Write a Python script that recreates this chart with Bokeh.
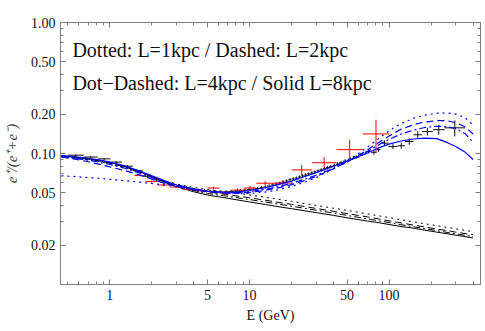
import numpy as np
from bokeh.plotting import figure
from bokeh.models import (LogAxis, FixedTicker, ColumnDataSource, Range1d,
                          CustomJSTickFormatter, Title)
from bokeh.core.properties import value
from bokeh.embed import file_html
from bokeh.resources import INLINE

# ---------------- data ----------------
ams_edges = [0.5, 0.65, 0.82, 1.01, 1.22, 1.46, 1.72, 2.0, 2.31, 2.65, 3.0, 3.36, 3.73,
             4.12, 4.54, 5.0, 5.49, 6.0, 6.54, 7.1, 7.69, 8.3, 8.95, 9.62, 10.32, 11.04,
             11.8, 12.59, 13.41, 14.25, 15.14, 16.05, 17.0, 17.98, 18.99, 20.04, 21.13,
             22.25, 23.42, 24.62, 25.9, 27.25, 28.68, 30.21, 31.82, 33.53, 35.36, 37.31,
             39.39, 41.61, 44.0, 46.57, 50.5, 55.0, 61.5, 68.0, 74.5, 81.5, 87.0, 99.0,
             115.0, 130.0, 150.0, 172.0, 206.0, 250.0, 350.0]
ams_frac = [0.097, 0.094, 0.091, 0.086, 0.080, 0.074, 0.067, 0.063, 0.060, 0.058, 0.0565,
            0.055, 0.0535, 0.0525, 0.052, 0.0515, 0.051, 0.0508, 0.051, 0.0512, 0.0515,
            0.052, 0.0525, 0.053, 0.0535, 0.054, 0.0548, 0.0555, 0.0565, 0.0575, 0.0585,
            0.0595, 0.0605, 0.0617, 0.063, 0.064, 0.065, 0.0662, 0.0675, 0.0685, 0.0698,
            0.071, 0.0722, 0.0735, 0.075, 0.0765, 0.078, 0.0795, 0.0812, 0.083, 0.085,
            0.0875, 0.0905, 0.094, 0.099, 0.1035, 0.102, 0.107, 0.120, 0.113, 0.1146,
            0.1235, 0.139, 0.147, 0.152, 0.157]
ams_err = [0.0015, 0.0015, 0.0015, 0.0015, 0.0015, 0.0015, 0.0015, 0.0015, 0.0015, 0.0015,
           0.0015, 0.0015, 0.0015, 0.0015, 0.0015, 0.0015, 0.0015, 0.0015, 0.0015, 0.0015,
           0.0015, 0.0015, 0.0015, 0.0015, 0.0015, 0.0015, 0.0015, 0.0015, 0.0015, 0.0015,
           0.0015, 0.0015, 0.0015, 0.0018, 0.0018, 0.0018, 0.0018, 0.0018, 0.002, 0.002,
           0.002, 0.002, 0.002, 0.0022, 0.0022, 0.0022, 0.0025, 0.0025, 0.0025, 0.0028,
           0.003, 0.003, 0.003, 0.003, 0.003, 0.0035, 0.004, 0.004, 0.006, 0.005, 0.006,
           0.007, 0.009, 0.010, 0.013, 0.022]

pam_lo = [1.5, 1.8, 2.2, 2.7, 3.3, 4.1, 5.0, 6.1, 7.4, 9.1, 11.2, 15.0, 20.0, 28.0, 42.0, 65.0]
pam_hi = [1.8, 2.2, 2.7, 3.3, 4.1, 5.0, 6.1, 7.4, 9.1, 11.2, 15.0, 20.0, 28.0, 42.0, 65.0, 100.0]
pam_frac = [0.068, 0.061, 0.0575, 0.0555, 0.0535, 0.052, 0.0545, 0.0500, 0.0525, 0.0545,
            0.0593, 0.0595, 0.075, 0.085, 0.107, 0.141]
pam_err = [0.0012, 0.0012, 0.0012, 0.0012, 0.0012, 0.0013, 0.0014, 0.0016, 0.0018, 0.002,
           0.0022, 0.003, 0.0065, 0.009, 0.020, 0.040]

curve_E = [0.45, 0.55, 0.7, 0.85, 1.0, 1.3, 1.6, 2.0, 2.5, 3.0, 4.0, 5.0, 6.5, 8.0, 10, 13,
           16, 20, 25, 30, 40, 50, 60, 70, 85, 100, 120, 150, 180, 220, 260, 300, 350, 400]
bkg_L1 = [0.094, 0.092, 0.0895, 0.0865, 0.0835, 0.0778, 0.0725, 0.0670, 0.0620, 0.0585,
          0.0550, 0.0530, 0.0512, 0.0498, 0.0483, 0.0463, 0.0447, 0.0431, 0.0414, 0.0402,
          0.0382, 0.0368, 0.0356, 0.0346, 0.0334, 0.0324, 0.0313, 0.0301, 0.0291, 0.0281,
          0.0273, 0.0266, 0.0259, 0.0253]
bkg_L2 = [0.095, 0.093, 0.0905, 0.0875, 0.0845, 0.0785, 0.073, 0.0668, 0.0612, 0.0575,
          0.0533, 0.0510, 0.0490, 0.0475, 0.0459, 0.0440, 0.0424, 0.0409, 0.0393, 0.0381,
          0.0362, 0.0348, 0.0337, 0.0328, 0.0316, 0.0306, 0.0296, 0.0284, 0.0275, 0.0265,
          0.0258, 0.0251, 0.0245, 0.0240]
bkg_L4 = [0.0955, 0.0935, 0.091, 0.088, 0.085, 0.079, 0.073, 0.0665, 0.0605, 0.0565,
          0.0522, 0.0496, 0.0476, 0.0461, 0.0445, 0.0426, 0.0411, 0.0396, 0.0381, 0.0369,
          0.0351, 0.0337, 0.0326, 0.0317, 0.0306, 0.0297, 0.0287, 0.0276, 0.0267, 0.0258,
          0.0250, 0.0244, 0.0238, 0.0232]
bkg_L8 = [0.096, 0.094, 0.0915, 0.0885, 0.0855, 0.0795, 0.0735, 0.0665, 0.0600, 0.0558,
          0.0510, 0.0482, 0.0461, 0.0444, 0.0427, 0.0408, 0.0393, 0.0379, 0.0365, 0.0354,
          0.0337, 0.0323, 0.0313, 0.0305, 0.0296, 0.0287, 0.0278, 0.0269, 0.0260, 0.0251,
          0.0244, 0.0238, 0.0232, 0.0226]
tot_L1 = [0.0675, 0.0668, 0.0655, 0.0645, 0.0635, 0.0620, 0.0605, 0.0590, 0.0572, 0.0558,
          0.0535, 0.0518, 0.0502, 0.0495, 0.0495, 0.0508, 0.0528, 0.0560, 0.0605, 0.0655,
          0.0762, 0.0875, 0.0995, 0.112, 0.131, 0.149, 0.168, 0.186, 0.196, 0.203, 0.204,
          0.200, 0.188, 0.165]
tot_L2 = [0.094, 0.091, 0.0865, 0.0825, 0.079, 0.0738, 0.069, 0.0638, 0.059, 0.056,
          0.0527, 0.0511, 0.0500, 0.0498, 0.0505, 0.0523, 0.0546, 0.0578, 0.0622, 0.0668,
          0.0765, 0.0865, 0.0965, 0.1065, 0.122, 0.136, 0.152, 0.166, 0.174, 0.178, 0.178,
          0.172, 0.160, 0.141]
tot_L4 = [0.095, 0.0925, 0.089, 0.0855, 0.0825, 0.0770, 0.0715, 0.0655, 0.0602, 0.0568,
          0.0532, 0.0514, 0.0503, 0.0503, 0.0512, 0.0533, 0.0558, 0.0593, 0.0638, 0.0682,
          0.0770, 0.0860, 0.0950, 0.1035, 0.117, 0.128, 0.140, 0.151, 0.158, 0.1615, 0.160,
          0.155, 0.142, 0.122]
tot_L8 = [0.0965, 0.0945, 0.092, 0.089, 0.086, 0.080, 0.074, 0.0675, 0.0615, 0.0575,
          0.0535, 0.0515, 0.0505, 0.0508, 0.0522, 0.0548, 0.0578, 0.0615, 0.0668, 0.0715,
          0.0800, 0.0875, 0.0945, 0.101, 0.111, 0.118, 0.124, 0.129, 0.131, 0.130, 0.1215,
          0.113, 0.1025, 0.090]

notes = ["Dotted: L=1kpc / Dashed: L=2kpc", "Dot\u2212Dashed: L=4kpc / Solid L=8kpc"]

x_major = [1, 5, 10, 50, 100]
x_minor = [0.5, 0.6, 0.7, 0.8, 0.9, 2, 3, 4, 6, 7, 8, 9, 20, 30, 40, 60, 70, 80, 90,
           200, 300, 400]
y_major = [0.02, 0.05, 0.1, 0.2, 0.5, 1.0]
y_minor = [0.01, 0.03, 0.04, 0.06, 0.07, 0.08, 0.09, 0.3, 0.4, 0.6, 0.7, 0.8, 0.9]

# ---------------- figure ----------------
GRAY = "#808080"
FONT = "Liberation Serif"

p = figure(width=485, height=331, x_axis_type="log", y_axis_type="log",
           x_range=Range1d(0.443, 452), y_range=Range1d(0.01, 1.0),
           output_backend="svg", toolbar_location=None,
           min_border_left=57, min_border_right=5, min_border_top=22, min_border_bottom=47,
           background_fill_color="white", border_fill_color="white",
           outline_line_color=GRAY)
p.grid.visible = False


def style_axis(ax, ticks, minor):
    ax.ticker = FixedTicker(ticks=ticks, minor_ticks=minor)
    ax.axis_line_color = GRAY
    ax.major_tick_line_color = GRAY
    ax.minor_tick_line_color = GRAY
    ax.major_tick_in = 5
    ax.major_tick_out = 0
    ax.minor_tick_in = 3
    ax.minor_tick_out = 0
    ax.major_label_text_font = FONT
    ax.major_label_text_font_size = "14px"
    ax.major_label_text_color = "#111111"


xa = p.xaxis[0]
ya = p.yaxis[0]
style_axis(xa, x_major, x_minor)
style_axis(ya, y_major, y_minor)
xa.formatter = CustomJSTickFormatter(code="return String(tick);")
ya.formatter = CustomJSTickFormatter(code="return tick.toFixed(2);")
xa.major_label_standoff = 5
ya.major_label_standoff = 5
ya.axis_label = "e\u207a/(e\u207a+e\u207b)"
ya.axis_label_text_font = FONT
ya.axis_label_text_font_style = "italic"
ya.axis_label_text_font_size = "15px"
ya.axis_label_standoff = 8

top = LogAxis()
style_axis(top, x_major, x_minor)
top.formatter = CustomJSTickFormatter(code="return '';")
top.major_label_standoff = 0
p.add_layout(top, "above")
right = LogAxis()
style_axis(right, y_major, y_minor)
right.formatter = CustomJSTickFormatter(code="return '';")
right.major_label_standoff = 0
p.add_layout(right, "right")

# x-axis title, below the axis
p.add_layout(Title(text="E (GeV)", align="center", text_font=FONT, text_font_size="14px",
                   text_font_style="normal", text_color="#111111", standoff=6, offset=0),
             "below")

# ---------------- model curves ----------------
E = np.array(curve_E)
dashes = ["2 4", "7 4", "7 3 2 3", "solid"]
for vals, dash in zip([bkg_L1, bkg_L2, bkg_L4, bkg_L8], dashes):
    p.line(E, vals, line_color="black", line_width=1.0, line_dash=dash)

# ---------------- data crosses ----------------
edges = np.array(ams_edges)
lo, hi = edges[:-1], edges[1:]
ctr = np.sqrt(lo * hi)
f = np.array(ams_frac)
e = np.array(ams_err)
src_a = ColumnDataSource(dict(lo=lo, hi=hi, c=ctr, f=f, fl=f - e, fh=f + e))
p.segment(x0="lo", y0="f", x1="hi", y1="f", source=src_a, line_color="#111111", line_width=1)
p.segment(x0="c", y0="fl", x1="c", y1="fh", source=src_a, line_color="#111111", line_width=1)

plo, phi = np.array(pam_lo), np.array(pam_hi)
pc = np.sqrt(plo * phi)
pf = np.array(pam_frac)
pe = np.array(pam_err)
src_p = ColumnDataSource(dict(lo=plo, hi=phi, c=pc, f=pf, fl=pf - pe, fh=pf + pe))
p.segment(x0="lo", y0="f", x1="hi", y1="f", source=src_p, line_color="#FF0000", line_width=1)
p.segment(x0="c", y0="fl", x1="c", y1="fh", source=src_p, line_color="#FF0000", line_width=1)

for vals, dash in zip([tot_L1, tot_L2, tot_L4, tot_L8], dashes):
    p.line(E, vals, line_color="#0000FF", line_width=1.2, line_dash=dash)

# ---------------- annotations (text glyph) ----------------
src_t = ColumnDataSource(dict(x=[0.539, 0.539], y=[0.621, 0.3456], t=notes))
p.text(x="x", y="y", text="t", source=src_t, text_font=value(FONT),
       text_font_size=value("20px"), text_color="#111111", text_baseline="alphabetic")

open("out.html", "w").write(file_html(p, INLINE))
